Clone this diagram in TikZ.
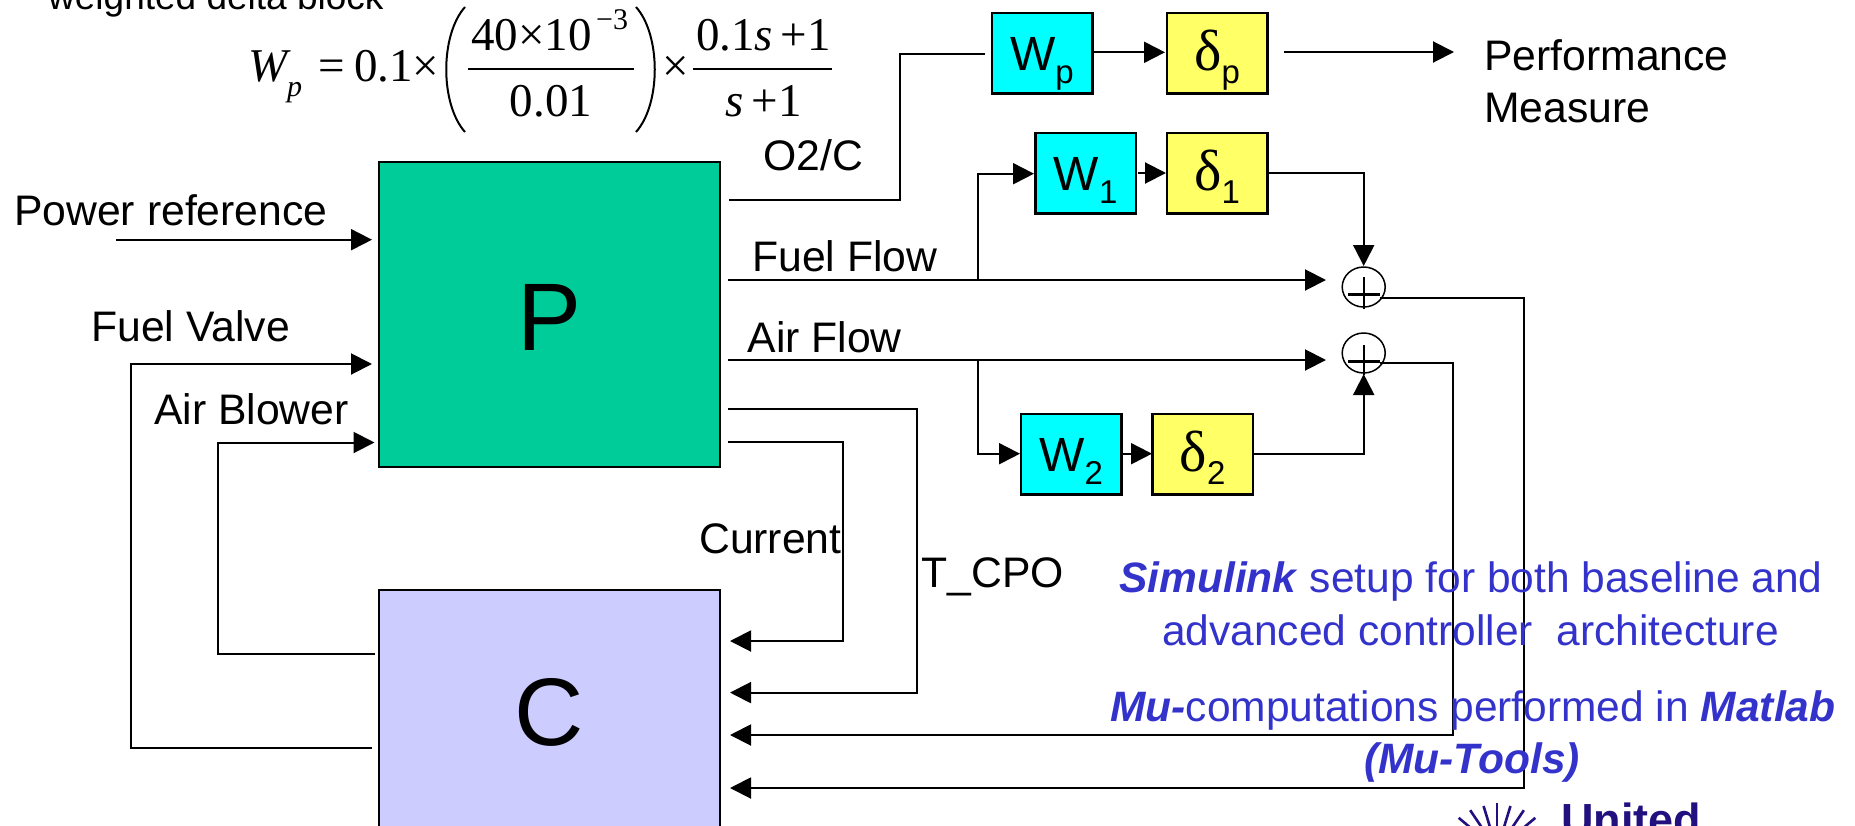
\documentclass[tikz,border=0pt]{standalone}
\usepackage{fontspec}
\usetikzlibrary{arrows.meta,shapes.geometric,calc}
\setmainfont{Liberation Sans}
\newfontfamily\tnr{Liberation Serif}
\definecolor{plantc}{HTML}{00CC99}
\definecolor{ctrlc}{HTML}{CCCCFF}
\definecolor{wc}{HTML}{00FFFF}
\definecolor{dc}{HTML}{FFFF66}
\definecolor{bluet}{HTML}{3333CC}
\definecolor{logoc}{HTML}{22107F}
\newcommand{\fs}[1]{\fontsize{#1}{#1}\selectfont}
\newcommand{\subsc}[2]{\raisebox{-#1pt}{\fs{33}#2}}
\newcommand{\dlt}{{\tnr\fs{58}δ}}
\tikzset{
  x=1pt,y=-1pt,
  conn/.style={draw=black,line width=2pt,line join=miter},
  arr/.style={conn,-{Triangle[length=21pt,width=21pt]}},
  lab/.style={anchor=base west,inner sep=0pt,font=\fs{42.7}},
  eq/.style={anchor=base west,inner sep=0pt,font=\tnr\fs{47}},
  eqc/.style={anchor=base,inner sep=0pt,font=\tnr\fs{47}},
  blue/.style={anchor=base,inner sep=0pt,font=\fs{42.5},text=bluet},
  bigbox/.style={draw=black,line width=2.5pt,minimum width=341pt,inner sep=0pt},
  wbox/.style={draw=black,line width=2.5pt,fill=wc,minimum width=100.5pt,minimum height=80.5pt,inner sep=0pt,
     text height=35.4pt,text depth=0pt,font=\fs{48}},
  dbox/.style={wbox,fill=dc},
  sumn/.style={draw=black,line width=1.5pt,ellipse,minimum width=43pt,minimum height=40pt,inner sep=0pt},
  ray/.style={draw=logoc,line width=2.6pt}
}
\begin{document}
\begin{tikzpicture}
\useasboundingbox (0,0) rectangle (1855,825);
% large blocks
\node[bigbox,fill=plantc,minimum height=305pt] (P) at (549.5,314.5) {};
\node[bigbox,fill=ctrlc,minimum height=310pt] (C) at (549.5,745) {};
\node[anchor=base,inner sep=0pt,font=\fs{96}] (Plab) at (549.5,350) {P};
\node[anchor=base,inner sep=0pt,font=\fs{96}] (Clab) at (549.5,745) {C};
% weight and delta blocks
\node[wbox] (Wp) at (1042,53) {W\subsc{13}{p}};
\node[dbox] (Dp) at (1217,53) {\dlt\subsc{13}{p}};
\node[wbox] (W1) at (1085.7,173) {W\subsc{12.5}{1}};
\node[dbox] (D1) at (1217,173) {\dlt\subsc{12.5}{1}};
\node[wbox] (W2) at (1071.2,454) {W\subsc{12.5}{2}};
\node[dbox] (D2) at (1202.7,454) {\dlt\subsc{12.5}{2}};
% summing junctions
\node[sumn] (S1) at (1363.7,287) {};
\node[sumn] (S2) at (1363.7,353) {};
\draw[line width=2pt] (S1.center |- 0,277) -- (S1.center |- 0,309);
\draw[line width=3pt] (1348,294) -- (1380,294);
\draw[line width=2pt] (S2.center |- 0,345) -- (S2.center |- 0,375);
\draw[line width=3pt] (1348,361) -- (1380,361);
% ports
\coordinate (pOut) at (729,200);
\coordinate (pFuel) at (728,280);
\coordinate (pAir) at (728,360);
\coordinate (pT) at (728,409);
\coordinate (pCur) at (728,442);
\coordinate (brF) at (977.7,280);
\coordinate (brA) at (977.7,360);
\coordinate (perf) at (1454,52);
\coordinate (powS) at (116,239.7);
\coordinate (powE) at (372,239.7);
\coordinate (fvS) at (372,748);
\coordinate (fvE) at (372,364);
\coordinate (abS) at (375,654);
\coordinate (abE) at (374.5,442.5);
\coordinate (cCur) at (730,641);
\coordinate (cT) at (730,692.6);
\coordinate (cS2) at (730,735);
\coordinate (cS1) at (730,788);
\coordinate (s1L) at (1326,280);
\coordinate (s2L) at (1326,360);
\coordinate (s1R) at (1380,298);
\coordinate (s2R) at (1380,363);
\coordinate (s1T) at (1363.7,266);
\coordinate (s2B) at (1363.7,374);
% connectors
\draw[conn] (pOut) -- (900,200) -- (900,53.7) -- (984.6,53.7);
\draw[arr] (1093.7,52.3) -- (1165,52.3);
\draw[arr] (1283.5,52) -- (perf);
\draw[arr] (pFuel) -- (s1L);
\draw[arr] (brF) -- (977.7,173.7) -- (1034,173.7);
\draw[arr] (1138,173) -- (1166,173);
\draw[arr] (D1.east) -- (s1T |- D1.east) -- (s1T);
\draw[arr] (s1R) -- (1524,298) -- (1524,788) -- (cS1);
\draw[arr] (pAir) -- (s2L);
\draw[arr] (brA) -- (977.7,453.7) -- (1020,453.7);
\draw[arr] (1123,453.7) -- (1152,453.7);
\draw[arr] (D2.east) -- (s2B |- D2.east) -- (s2B);
\draw[arr] (s2R) -- (1453,363) -- (1453,735) -- (cS2);
\draw[arr] (pT) -- (916.5,409) -- (916.5,692.6) -- (cT);
\draw[arr] (pCur) -- (843,442) -- (843,641) -- (cCur);
\draw[arr] (powS) -- (powE);
\draw[arr] (fvS) -- (130.7,748) -- (130.7,364) -- (fvE);
\draw[arr] (abS) -- (218,654) -- (218,442.5) -- (abE);
% labels
\node[anchor=base west,inner sep=0pt,font=\fs{37}] (hdr) at (48,9) {weighted delta block};
\node[lab] (lPow) at (14,225) {Power reference};
\node[lab] (lO2) at (763,170.7) {O2/C};
\node[lab] (lFF) at (752,271) {Fuel Flow};
\node[lab] (lAF) at (747.4,352) {Air Flow};
\node[lab] (lFV) at (91,341.7) {Fuel Valve};
\node[lab] (lAB) at (154,424) {Air Blower};
\node[lab] (lCu) at (699,553.6) {Current};
\node[lab] (lT) at (921.5,587) {T\_CPO};
\node[lab] (lP1) at (1484,70) {Performance};
\node[lab] (lP2) at (1484,122) {Measure};
% equation
\node[eq] (e1) at (248,81) {\textit{W}};
\node[anchor=base west,inner sep=0pt,font=\tnr\itshape\fs{30}] (e2) at (287,96) {p};
\node[eq] (e3) at (318,81) {=};
\node[eq] (e4) at (354,81) {0.1×};
\node[eq] (e5) at (471,50.7) {40×10};
\node[anchor=base west,inner sep=0pt,font=\tnr\fs{30}] (e6) at (596,29) {−3};
\node[eqc] (e7) at (551,116.7) {0.01};
\node[eq] (e8) at (662,81) {×};
\node[eqc] (e9) at (763.5,50.7) {0.1\textit{s}\,+1};
\node[eqc] (e10) at (763.5,116.7) {\textit{s}\,+1};
\draw[line width=2pt] (468,68.7) -- (634,68.7);
\draw[line width=2pt] (693,68.7) -- (832,68.7);
\draw[line width=2pt] (465,7) .. controls (440,35) and (440,104) .. (465,132);
\draw[line width=2pt] (636,7) .. controls (661,35) and (661,104) .. (636,132);
% blue notes
\node[blue] (b1) at (1471,592) {\textbf{\textit{Simulink}} setup for both baseline and};
\node[blue] (b2) at (1470.5,645) {advanced controller\ \ architecture};
\node[blue] (b3) at (1473,721.7) {\textbf{\textit{Mu-}}computations performed in \textbf{\textit{Matlab}}};
\node[blue] (b4) at (1472,773) {\textbf{\textit{(Mu-Tools)}}};
% logo, cut by the lower edge
\node[anchor=base west,inner sep=0pt,font=\bfseries\fs{45},text=logoc] (logo) at (1561,835) {United};
\foreach \a/\r in {-50/50,-34/48,-17/46,0/47,17/46,34/48,50/50}
  \draw[ray] ($(1497,850)+(\a-90:22)$) -- ($(1497,850)+(\a-90:\r)$);
\end{tikzpicture}
\end{document}
